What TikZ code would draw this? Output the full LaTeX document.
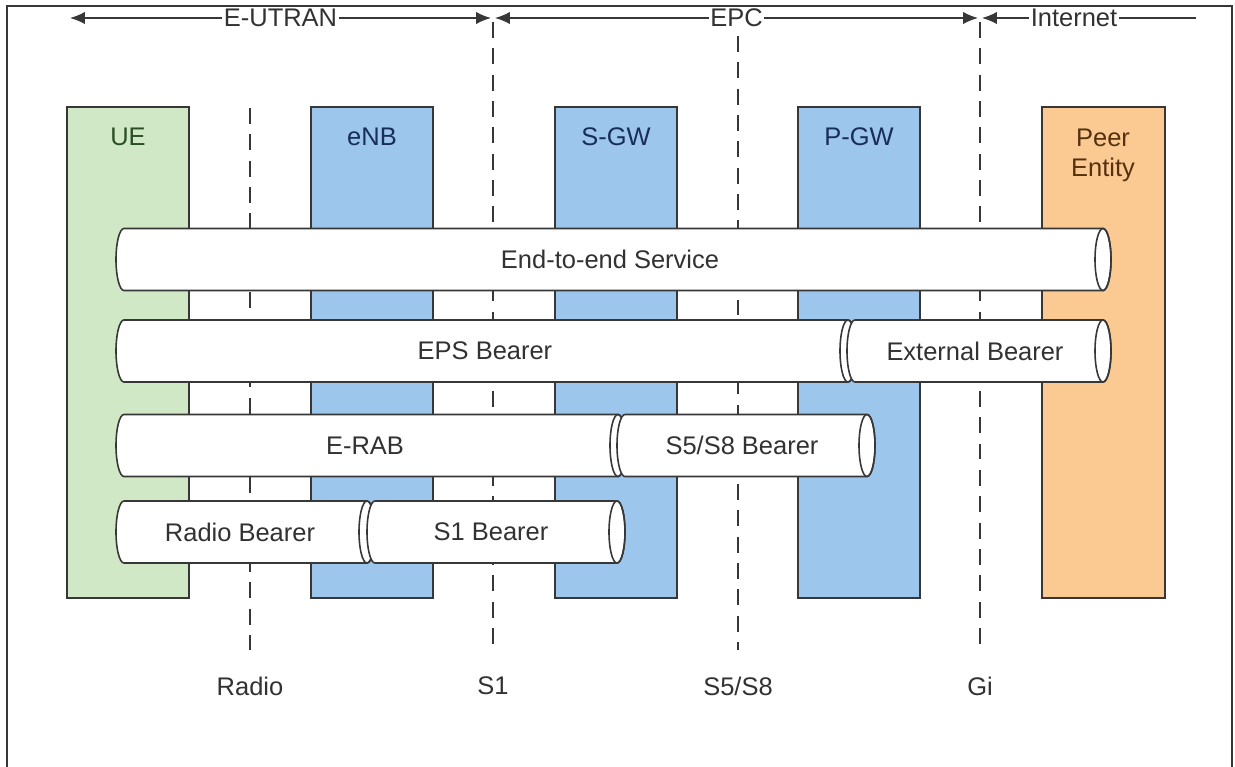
\documentclass[tikz,border=0pt]{standalone}
\usepackage{fontspec}
\setmainfont{Liberation Sans}
\usetikzlibrary{arrows.meta}
\definecolor{uegreen}{RGB}{208,232,198}
\definecolor{uetext}{RGB}{40,80,35}
\definecolor{nodeblue}{RGB}{157,198,236}
\definecolor{bluetext}{RGB}{25,45,90}
\definecolor{peerorange}{RGB}{251,201,146}
\definecolor{peertext}{RGB}{85,50,15}
\definecolor{edge}{RGB}{55,55,55}
\definecolor{label}{RGB}{50,50,50}
\tikzset{
  box/.style={draw=edge,line width=0.9pt},
  pipe/.style={draw=edge,fill=white,line width=0.9pt},
  iface/.style={draw=edge,line width=0.8pt,dash pattern=on 9pt off 6pt},
  span/.style={draw=edge,line width=0.8pt,{Latex[length=8.5pt,width=7pt]}-{Latex[length=8.5pt,width=7pt]}},
  halfspan/.style={draw=edge,line width=0.8pt,{Latex[length=8.5pt,width=7pt]}-},
  txt/.style={text=label,font=\fontsize{14.5}{17}\selectfont}
}
% bearer pipe: name, left x, right x, centre y, text, text x
\newcommand\bearerpipe[6]{%
  \path[pipe] (#2,#4-31) -- (#3,#4-31)
    arc[start angle=-90,end angle=90,x radius=8,y radius=31]
    -- (#2,#4+31)
    arc[start angle=90,end angle=270,x radius=8,y radius=31] -- cycle;
  \draw[edge,line width=0.9pt] (#3,#4) ellipse [x radius=8,y radius=31];
  \node[txt] (#1) at (#6,#4) {#5};
}
\begin{document}
\begin{tikzpicture}[x=0.02cm,y=-0.02cm]
    \useasboundingbox (0,0) rectangle (1235,767);
    % frame
    \draw[edge,line width=1pt] (7,767) -- (7,6) -- (1232,6) -- (1232,767);
    % network elements
    \draw[box,fill=uegreen] (67,107) rectangle (189,598);
    \draw[box,fill=nodeblue] (311,107) rectangle (433,598);
    \draw[box,fill=nodeblue] (555,107) rectangle (677,598);
    \draw[box,fill=nodeblue] (798,107) rectangle (920,598);
    \draw[box,fill=peerorange] (1042,107) rectangle (1165,598);
    \node[txt,text=uetext] (ue) at (128,137) {UE};
    \node[txt,text=bluetext] (enb) at (372,137) {eNB};
    \node[txt,text=bluetext] (sgw) at (616,137) {S-GW};
    \node[txt,text=bluetext] (pgw) at (859,137) {P-GW};
    \node[txt,text=peertext,align=center] (peer) at (1103,155) {Peer\\Entity};
    % interfaces
    \coordinate (radioT) at (250,108);  \coordinate (radioB) at (250,650);
    \coordinate (sT) at (493,22);       \coordinate (sB) at (493,650);
    \coordinate (s5T) at (738,36);      \coordinate (s5B) at (738,650);
    \coordinate (giT) at (980,22);      \coordinate (giB) at (980,650);
    \draw[iface] (radioT) -- (radioB);
    \draw[iface] (sT) -- (sB);
    \draw[iface] (s5T) -- (s5B);
    \draw[iface] (giT) -- (giB);
    \node[txt] (radio) at (250,686) {Radio};
    \node[txt] (s1) at (493,686) {S1};
    \node[txt] (s5s8) at (738,686) {S5/S8};
    \node[txt] (gi) at (980,686) {Gi};
    % domains
    \coordinate (utranL) at (70,18);    \coordinate (utranR) at (491,18);
    \coordinate (epcL) at (495,18);     \coordinate (epcR) at (978,18);
    \coordinate (inetL) at (982,18);    \coordinate (inetR) at (1196,18);
    \draw[span] (utranL) -- node[txt,fill=white,inner sep=1pt] (utran) {E-UTRAN} (utranR);
    \draw[span] (epcL) -- node[txt,fill=white,inner sep=1pt] (epc) {EPC} (epcR);
    \draw[halfspan] (inetL) -- node[txt,fill=white,inner sep=1pt,pos=0.43] (inet) {Internet} (inetR);
    % bearers
    \bearerpipe{e2e}{124}{1103}{259.5}{End-to-end Service}{610}
    \bearerpipe{eps}{124}{848}{351}{EPS Bearer}{485}
    \bearerpipe{ext}{855}{1103}{351}{External Bearer}{975}
    \bearerpipe{erab}{124}{618}{445.5}{E-RAB}{365}
    \bearerpipe{s5b}{625}{867}{445.5}{S5/S8 Bearer}{742}
    \bearerpipe{rb}{124}{367}{532}{Radio Bearer}{240}
    \bearerpipe{s1b}{375}{617}{532}{S1 Bearer}{491}
\end{tikzpicture}
\end{document}
